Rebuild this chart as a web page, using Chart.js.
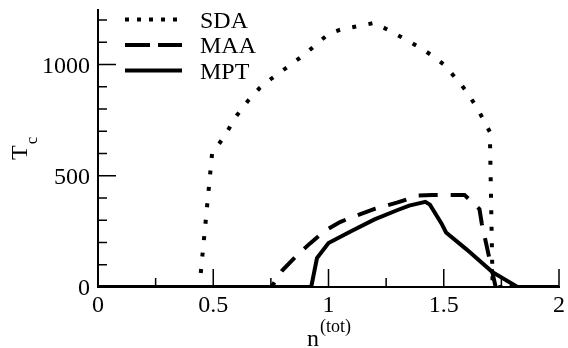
<!DOCTYPE html>
<html>
<head>
<meta charset="utf-8">
<script src="https://cdn.jsdelivr.net/npm/chart.js@4/dist/chart.umd.min.js"></script>
<style>
  html, body { margin: 0; padding: 0; background: #fff; }
</style>
</head>
<body>
<canvas id="myChart" width="568" height="348"></canvas>
<script>
// values
var sdaX = [0, 0.44, 0.495, 0.55, 0.6, 0.65, 0.7, 0.75, 0.8, 0.85, 0.9, 0.95, 1.0, 1.05, 1.1, 1.15, 1.2, 1.25, 1.3, 1.35, 1.4, 1.45, 1.5, 1.55, 1.6, 1.65, 1.7, 1.712, 2];
var sdaY = [0, 0, 600, 680, 768, 836, 893, 935, 972, 1010, 1048, 1094, 1137, 1156, 1167, 1177, 1187, 1160, 1132, 1104, 1074, 1040, 1000, 941, 878, 795, 697, 0, 0];

var maaX = [0, 0.752, 0.8, 0.865, 0.92, 0.985, 1.05, 1.1, 1.2, 1.3, 1.39, 1.45, 1.59, 1.655, 1.665, 1.725, 2];
var maaY = [0, 0, 75, 144, 196, 253, 292, 313, 351, 380, 411, 414, 414, 350, 285, 0, 0];

var mptX = [0, 0.925, 0.95, 1.0, 1.1, 1.2, 1.3, 1.35, 1.42, 1.44, 1.49, 1.51, 1.6, 1.71, 1.82, 2];
var mptY = [0, 0, 130, 198, 252, 304, 346, 366, 383, 370, 286, 245, 168, 68, 0, 0];

var seriesNames = ["SDA", "MAA", "MPT"];

var xTicks = [0, 0.5, 1, 1.5, 2];
var xMinorTicks = [0.25, 0.75, 1.25, 1.75];
var yTicks = [0, 500, 1000];
var yMinorTicks = [100, 200, 300, 400, 600, 700, 800, 900, 1100, 1200];

function toPoints(xs, ys) {
    return xs.map(function(x, i) {
        return {x: x, y: ys[i]};
    });
}

var serif = '"Liberation Serif", "Times New Roman", serif';

// inward tick marks, xmgrace style
var tickPlugin = {
    id: 'inTicks',
    beforeDatasetsDraw: function(chart) {
        var ctx = chart.ctx, xs = chart.scales.x, ys = chart.scales.y, a = chart.chartArea;
        ctx.save();
        ctx.strokeStyle = '#000';
        ctx.lineWidth = 1.5;
        ctx.beginPath();
        xTicks.forEach(function(v) {
            var px = xs.getPixelForValue(v);
            ctx.moveTo(px, a.bottom);
            ctx.lineTo(px, a.bottom - 18);
        });
        xMinorTicks.forEach(function(v) {
            var px = xs.getPixelForValue(v);
            ctx.moveTo(px, a.bottom);
            ctx.lineTo(px, a.bottom - 9);
        });
        yTicks.forEach(function(v) {
            var py = ys.getPixelForValue(v);
            ctx.moveTo(a.left, py);
            ctx.lineTo(a.left + 18, py);
        });
        yMinorTicks.forEach(function(v) {
            var py = ys.getPixelForValue(v);
            ctx.moveTo(a.left, py);
            ctx.lineTo(a.left + 9, py);
        });
        ctx.stroke();
        ctx.restore();
    }
};

// legend inside the plot, top left
var legendPlugin = {
    id: 'insideLegend',
    afterDraw: function(chart) {
        var ctx = chart.ctx;
        var dashes = [[4, 8], [25, 8], []];
        ctx.save();
        chart.data.datasets.forEach(function(ds, i) {
            var base = 27.5 + i * 25.5;
            ctx.strokeStyle = '#000';
            ctx.lineWidth = 4;
            ctx.setLineDash(dashes[i]);
            ctx.beginPath();
            ctx.moveTo(125, base - 8);
            ctx.lineTo(182, base - 8);
            ctx.stroke();
            ctx.setLineDash([]);
            ctx.fillStyle = '#000';
            ctx.font = '24px ' + serif;
            ctx.textBaseline = 'alphabetic';
            ctx.fillText(ds.label, 200, base);
        });
        ctx.restore();
    }
};

// axis titles with sub/superscripts
var titlePlugin = {
    id: 'axisTitles',
    afterDraw: function(chart) {
        var ctx = chart.ctx;
        ctx.save();
        ctx.fillStyle = '#000';
        ctx.textBaseline = 'alphabetic';

        ctx.translate(27, 160);
        ctx.rotate(-Math.PI / 2);
        ctx.font = '24px ' + serif;
        ctx.fillText('T', 0, 0);
        var w = ctx.measureText('T').width;
        ctx.font = '17px ' + serif;
        ctx.fillText('c', w + 1, 10);
        ctx.setTransform(1, 0, 0, 1, 0, 0);

        ctx.font = '24px ' + serif;
        ctx.fillText('n', 307, 346);
        ctx.font = '18px ' + serif;
        ctx.fillText('(tot)', 320, 332);
        ctx.restore();
    }
};

new Chart("myChart", {
    type: "line",
    data: {
        datasets: [{
            label: seriesNames[0],
            data: toPoints(sdaX, sdaY),
            borderColor: '#000',
            borderWidth: 4,
            borderDash: [4, 12.5],
            borderCapStyle: 'butt'
        }, {
            label: seriesNames[1],
            data: toPoints(maaX, maaY),
            borderColor: '#000',
            borderWidth: 4,
            borderDash: [19, 13],
            borderCapStyle: 'butt'
        }, {
            label: seriesNames[2],
            data: toPoints(mptX, mptY),
            borderColor: '#000',
            borderWidth: 4
        }]
    },
    options: {
        responsive: false,
        animation: false,
        layout: {padding: {top: 10, right: 9, left: 0, bottom: 0}},
        elements: {
            point: {radius: 0, hoverRadius: 0},
            line: {tension: 0, fill: false, borderJoinStyle: 'miter'}
        },
        plugins: {
            legend: {display: false},
            tooltip: {enabled: false}
        },
        scales: {
            x: {
                type: 'linear',
                min: 0,
                max: 2,
                afterBuildTicks: function(s) { s.ticks = xTicks.map(function(v) { return {value: v}; }); },
                afterFit: function(s) { s.height = 61; s.paddingLeft = 0; s.paddingRight = 0; },
                grid: {display: false, drawTicks: false},
                border: {display: true, color: '#000', width: 2},
                ticks: {
                    color: '#000',
                    font: {family: serif, size: 24},
                    padding: 4,
                    maxRotation: 0,
                    callback: function(v) { return String(v); }
                }
            },
            y: {
                type: 'linear',
                min: 0,
                max: 1245,
                afterBuildTicks: function(s) { s.ticks = yTicks.map(function(v) { return {value: v}; }); },
                afterFit: function(s) { s.width = 98; s.paddingTop = 0; s.paddingBottom = 0; },
                grid: {display: false, drawTicks: false},
                border: {display: true, color: '#000', width: 2},
                ticks: {
                    color: '#000',
                    font: {family: serif, size: 24},
                    padding: 8,
                    labelOffset: 2,
                    callback: function(v) { return String(v); }
                }
            }
        }
    },
    plugins: [tickPlugin, legendPlugin, titlePlugin]
});
</script>
</body>
</html>
